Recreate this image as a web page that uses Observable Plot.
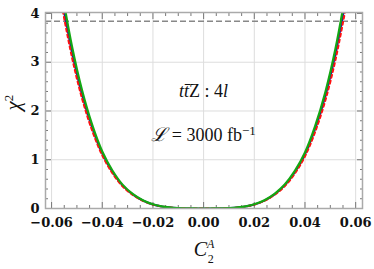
<!DOCTYPE html>
<html><head><meta charset="utf-8">
<script src="https://cdn.jsdelivr.net/npm/d3@7"></script>
<script src="https://cdn.jsdelivr.net/npm/@observablehq/plot@0.6"></script>
<style>body{margin:0;background:#fff;} svg{display:block;}</style>
</head><body><div id="chart"></div>
<script>
const xs = [-0.056,-0.052,-0.048,-0.044,-0.040,-0.036,-0.032,-0.028,-0.024,-0.020,-0.016,-0.012,-0.008,-0.004,0,0.004,0.008,0.012,0.016,0.020,0.024,0.028,0.032,0.036,0.040,0.044,0.048,0.052,0.056];
const green = [4.48,3.34,2.43,1.72,1.17,0.78,0.49,0.30,0.17,0.086,0.039,0.015,0.004,0.001,0,0.001,0.004,0.015,0.039,0.086,0.169,0.30,0.49,0.77,1.15,1.69,2.38,3.27,4.40];
const blue = [4.32,3.22,2.34,1.66,1.13,0.753,0.473,0.29,0.164,0.083,0.038,0.014,0.004,0.001,0,0.001,0.004,0.014,0.038,0.083,0.163,0.29,0.473,0.743,1.11,1.63,2.30,3.16,4.25];
const red = [4.17,3.11,2.26,1.60,1.09,0.725,0.455,0.28,0.158,0.080,0.036,0.014,0.004,0.001,0,0.001,0.004,0.014,0.036,0.080,0.157,0.28,0.456,0.716,1.07,1.57,2.21,3.04,4.09];
const threshold = [3.84];
const xMajor = [-0.06,-0.04,-0.02,0,0.02,0.04,0.06];
const xMinor = [-0.055,-0.05,-0.045,-0.035,-0.03,-0.025,-0.015,-0.01,-0.005,0.005,0.01,0.015,0.025,0.03,0.035,0.045,0.05,0.055];
const yMajor = [0,1,2,3,4];
const yMinor = [0.2,0.4,0.6,0.8,1.2,1.4,1.6,1.8,2.2,2.4,2.6,2.8,3.2,3.4,3.6,3.8];
const annot1 = "tt̄Z : 4l";
const annot2 = "ℒ = 3000 fb⁻¹";

const tbl = (ys) => xs.map((x,i)=>({x, y: ys[i]}));
const fmt = d => (d < 0 ? "\u2212" : "") + Math.abs(d).toFixed(2);
const tickFont = {fontFamily: "DejaVu Serif", fontWeight: "bold", fontSize: 13, fill: "#111"};

const plot = Plot.plot({
  width: 374, height: 269,
  marginLeft: 45, marginRight: 12, marginTop: 12, marginBottom: 61,
  x: {domain: [-0.0624, 0.0627]},
  y: {domain: [0, 4.02]},
  style: {background: "#fff"},
  marks: [
    Plot.gridX(xMajor, {stroke: "#ddd", strokeOpacity: 1, strokeWidth: 1}),
    Plot.gridY([1,2,3], {stroke: "#ddd", strokeOpacity: 1, strokeWidth: 1}),
    Plot.axisX(xMajor, {anchor: "bottom", tickSize: 0, tickPadding: 9, tickFormat: fmt, ...tickFont, label: null}),
    Plot.axisY(yMajor, {anchor: "left", tickSize: 0, tickPadding: 6, tickFormat: d => String(d), ...tickFont, label: null}),
    Plot.axisX(xMajor, {anchor: "bottom", tickSize: -6, text: null, label: null, stroke: "#777"}),
    Plot.axisX(xMinor, {anchor: "bottom", tickSize: -3, text: null, label: null, stroke: "#777"}),
    Plot.axisX(xMajor, {anchor: "top", tickSize: -6, text: null, label: null, stroke: "#777"}),
    Plot.axisX(xMinor, {anchor: "top", tickSize: -3, text: null, label: null, stroke: "#777"}),
    Plot.axisY(yMajor, {anchor: "left", tickSize: -6, text: null, label: null, stroke: "#777"}),
    Plot.axisY(yMinor, {anchor: "left", tickSize: -3, text: null, label: null, stroke: "#777"}),
    Plot.axisY(yMajor, {anchor: "right", tickSize: -6, text: null, label: null, stroke: "#777"}),
    Plot.axisY(yMinor, {anchor: "right", tickSize: -3, text: null, label: null, stroke: "#777"}),
    Plot.ruleY(threshold, {stroke: "#888", strokeWidth: 1.5, strokeDasharray: "6,3"}),
    Plot.line(tbl(blue), {x: "x", y: "y", stroke: "#1c1c9c", strokeWidth: 2, curve: "catmull-rom", clip: true}),
    Plot.line(tbl(red), {x: "x", y: "y", stroke: "#ff1010", strokeWidth: 2, strokeDasharray: "3,3", curve: "catmull-rom", clip: true}),
    Plot.line(tbl(green), {x: "x", y: "y", stroke: "#13a813", strokeWidth: 2.2, curve: "catmull-rom", clip: true}),
    Plot.frame({stroke: "#aaa", strokeWidth: 1.5}),
    Plot.text([annot1], {x: 0, y: 2.4, text: d => d, fontFamily: "Liberation Serif", fontSize: 18, fill: "#111", className: "annot1"}),
    Plot.text([annot2], {x: 0, y: 1.5, text: d => d, fontFamily: "Liberation Serif", fontSize: 18, fill: "#111", className: "annot2"}),
    Plot.text(["C"], {frameAnchor: "bottom", dy: 47, text: d => d, fontFamily: "Liberation Serif", fontSize: 20, fontStyle: "italic", fill: "#111", className: "xtitle"}),
    Plot.text(["χ"], {frameAnchor: "left", dx: -32, rotate: -90, text: d => d, fontFamily: "Liberation Serif", fontSize: 21, fontStyle: "italic", fill: "#111", className: "ytitle"})
  ]
});
document.getElementById("chart").appendChild(plot);

const svg = d3.select(plot);
svg.select(".annot1 text").text(null).call(t => {
  t.append("tspan").attr("font-style", "italic").text("tt̄");
  t.append("tspan").text("Z : 4");
  t.append("tspan").attr("font-style", "italic").text("l");
});
svg.select(".annot2 text").text(null).call(t => {
  t.append("tspan").attr("font-family", "DejaVu Serif").attr("font-style", "italic").attr("font-size", 19).text("ℒ");
  t.append("tspan").text(" = 3000 fb");
  t.append("tspan").attr("dy", "-0.45em").attr("font-size", 13).text("−1");
});
svg.select(".xtitle text").call(t => {
  t.text(null);
  t.append("tspan").text("C");
  t.append("tspan").attr("font-size", 12).attr("dy", "-0.6em").text("A");
  t.append("tspan").attr("font-size", 12).attr("font-style", "normal").attr("dx", "-0.55em").attr("dy", "1.2em").text("2");
});
svg.select(".ytitle text").call(t => {
  t.text(null);
  t.append("tspan").text("χ");
  t.append("tspan").attr("font-size", 13).attr("font-style", "normal").attr("dy", "-0.55em").text("2");
});
</script></body></html>
